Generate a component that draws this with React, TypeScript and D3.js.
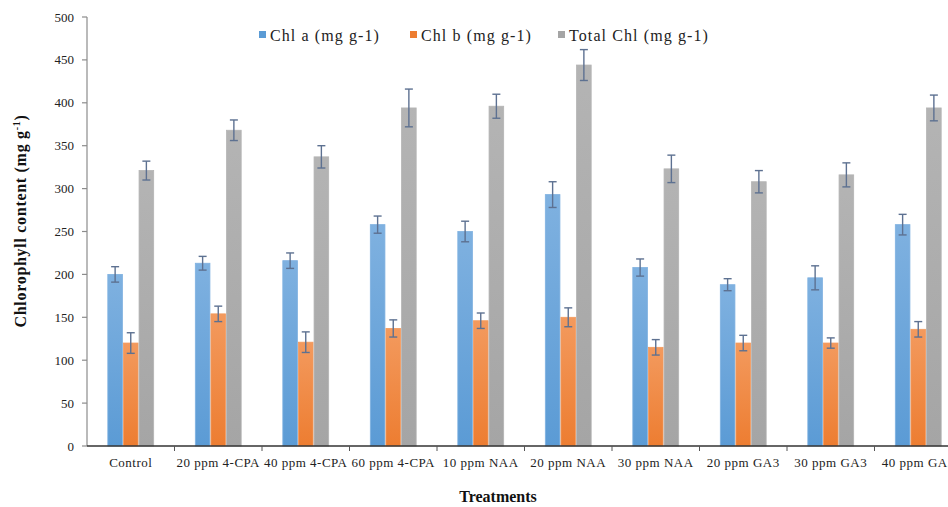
import React from "react";
import * as d3 from "d3";

const treatments = [
  "Control",
  "20 ppm 4-CPA",
  "40 ppm 4-CPA",
  "60 ppm 4-CPA",
  "10 ppm NAA",
  "20 ppm NAA",
  "30 ppm NAA",
  "20 ppm GA3",
  "30 ppm GA3",
  "40 ppm GA3",
];
const seriesNames = ["Chl a (mg g-1)", "Chl b (mg g-1)", "Total Chl (mg g-1)"];
const chlA = [200, 213, 216, 258, 250, 293, 208, 188, 196, 258];
const chlB = [120, 154, 121, 137, 146, 150, 115, 120, 120, 136];
const totalChl = [321, 368, 337, 394, 396, 444, 323, 308, 316, 394];
const chlAErr = [9, 8, 9, 10, 12, 15, 10, 7, 14, 12];
const chlBErr = [12, 9, 12, 10, 9, 11, 9, 9, 6, 9];
const totalErr = [11, 12, 13, 22, 14, 18, 16, 13, 14, 15];
const yTicks = [0, 50, 100, 150, 200, 250, 300, 350, 400, 450, 500];

const colors = ["#5b9bd5", "#ed7d31", "#a5a5a5"];
const lightColors = ["#7fb1e0", "#f39a5e", "#b4b4b4"];

const W = 948;
const H = 507;
const margin = { left: 87, top: 17, bottom: 61 };
const plotRight = 962;
const serif = { fontFamily: "'Liberation Serif', 'Times New Roman', Times, serif" };

export default function App() {
  const values = [chlA, chlB, totalChl];
  const errs = [chlAErr, chlBErr, totalErr];

  const x = d3
    .scaleBand<string>()
    .domain(treatments)
    .range([margin.left, plotRight]);
  const inner = d3
    .scaleBand<number>()
    .domain([0, 1, 2])
    .range([0, x.bandwidth()])
    .paddingInner(0)
    .paddingOuter(1.3);
  const y = d3
    .scaleLinear()
    .domain([0, 500])
    .range([H - margin.bottom, margin.top]);

  const bw = inner.bandwidth();

  return (
    <svg
      width={W}
      height={H}
      style={{ position: "absolute", left: 0, top: 0, background: "#fff", overflow: "hidden" }}
    >
      <defs>
        {colors.map((c, i) => (
          <linearGradient key={i} id={`g${i}`} x1="0" y1="0" x2="0" y2="1">
            <stop offset="0%" stopColor={lightColors[i]} />
            <stop offset="100%" stopColor={c} />
          </linearGradient>
        ))}
      </defs>

      {/* y axis */}
      <line x1={margin.left} x2={margin.left} y1={y(500)} y2={y(0)} stroke="#8c8c8c" strokeWidth={1.2} />
      {yTicks.map((t) => (
        <g key={t}>
          <line x1={margin.left - 5} x2={margin.left} y1={y(t)} y2={y(t)} stroke="#8c8c8c" strokeWidth={1.2} />
          <text x={margin.left - 13} y={y(t)} dy="0.35em" textAnchor="end" fontSize={13} fill="#222" style={serif}>
            {t}
          </text>
        </g>
      ))}

      {/* bars */}
      {treatments.map((t, ti) => (
        <g key={t} transform={`translate(${x(t)},0)`}>
          {values.map((vals, si) => {
            const bx = inner(si)!;
            const v = vals[ti];
            const e = errs[si][ti];
            const cx = bx + bw / 2;
            return (
              <g key={si}>
                <rect
                  x={bx + 0.5}
                  y={y(v)}
                  width={bw - 1}
                  height={y(0) - y(v)}
                  fill={`url(#g${si})`}
                  stroke={lightColors[si]}
                  strokeWidth={0.8}
                />
                <line x1={cx} x2={cx} y1={y(v + e)} y2={y(v - e)} stroke="#5d7191" strokeWidth={1.4} />
                <line x1={cx - 4} x2={cx + 4} y1={y(v + e)} y2={y(v + e)} stroke="#5d7191" strokeWidth={1.4} />
                <line x1={cx - 4} x2={cx + 4} y1={y(v - e)} y2={y(v - e)} stroke="#5d7191" strokeWidth={1.4} />
              </g>
            );
          })}
        </g>
      ))}

      {/* x axis */}
      <line x1={margin.left} x2={plotRight} y1={y(0)} y2={y(0)} stroke="#333" strokeWidth={1.5} />
      {treatments.map((t) => (
        <line
          key={t}
          x1={x(t)! + x.bandwidth()}
          x2={x(t)! + x.bandwidth()}
          y1={y(0)}
          y2={y(0) + 5}
          stroke="#555"
          strokeWidth={1}
        />
      ))}
      {treatments.map((t) => (
        <text
          key={t}
          x={x(t)! + x.bandwidth() / 2}
          y={y(0) + 21}
          textAnchor="middle"
          fontSize={13}
          letterSpacing={0.5}
          fill="#222"
          style={serif}
        >
          {t}
        </text>
      ))}

      {/* axis titles */}
      <text x={498} y={502} textAnchor="middle" fontSize={16} fontWeight="bold" fill="#111" style={serif}>
        Treatments
      </text>
      <text
        transform="translate(26,221) rotate(-90)"
        textAnchor="middle"
        fontSize={16}
        fontWeight="bold"
        letterSpacing={0.7}
        fill="#111"
        style={serif}
      >
        Chlorophyll content (mg g<tspan dy="-6" fontSize={10}>-1</tspan>
        <tspan dy="6">)</tspan>
      </text>

      {/* legend */}
      {seriesNames.map((n, i) => {
        const lx = [259, 410, 558][i];
        return (
          <g key={n} transform={`translate(${lx},35)`}>
            <rect x={0} y={-4} width={7} height={7} fill={colors[i]} />
            <text x={11} y={0} dy="0.35em" fontSize={16} letterSpacing={1.1} fill="#222" style={serif}>
              {n}
            </text>
          </g>
        );
      })}
    </svg>
  );
}
